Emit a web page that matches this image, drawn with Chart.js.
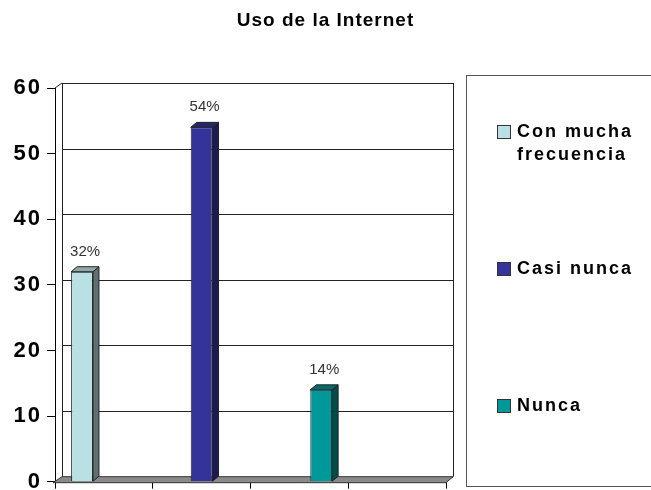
<!DOCTYPE html>
<html>
<head>
<meta charset="utf-8">
<script src="https://cdn.jsdelivr.net/npm/chart.js@4.4.1/dist/chart.umd.min.js"></script>
<style>
html, body { margin: 0; padding: 0; background: #fff; }
#wrap { width: 651px; height: 490px; }
</style>
</head>
<body>
<div id="wrap"><canvas id="grafico"></canvas></div>
<script>
// datos
const titulo = 'Uso de la Internet';
const categorias = ['', '', '', ''];
const series = ['Con mucha frecuencia', 'Casi nunca', 'Nunca'];
const valores = [32, 54, 14];
const etiquetas = ['32%', '54%', '14%'];
const colores = ['#b9e0e2', '#333399', '#009999'];
const lados = ['#5e7070', '#1b1b52', '#004c4c'];
const techos = ['#8fa8a8', '#26266e', '#006b6b'];

const fuente = '"Liberation Sans", Arial, sans-serif';
const ctx = document.getElementById('grafico').getContext('2d');

// cada serie va en su propia categoria
const datasets = series.map((s, i) => ({
    label: s,
    data: categorias.map((c, j) => (j === i ? valores[i] : null)),
    backgroundColor: colores[i],
    borderColor: '#222',
    borderWidth: 1,
    barPercentage: 1,
    categoryPercentage: 0.67
}));

const dx = 7, dy = 5; // profundidad del efecto 3D

const efecto3d = {
    id: 'efecto3d',
    beforeDraw(chart) {
        chart.ctx.letterSpacing = '2px';
    },
    beforeDatasetsDraw(chart) {
        const c = chart.ctx, a = chart.chartArea;
        const y = chart.scales.y;
        c.letterSpacing = '0px';
        c.save();
        c.strokeStyle = '#222';
        c.lineWidth = 1;
        // lineas de la pared del fondo
        y.ticks.forEach(t => {
            const py = Math.round(y.getPixelForValue(t.value) - dy) + 0.5;
            c.beginPath();
            c.moveTo(a.left + dx, py);
            c.lineTo(a.right + dx, py);
            c.stroke();
        });
        c.beginPath();
        c.moveTo(a.left + dx + 0.5, a.top - dy);
        c.lineTo(a.left + dx + 0.5, a.bottom - dy);
        c.moveTo(a.right + dx + 0.5, a.top - dy);
        c.lineTo(a.right + dx + 0.5, a.bottom - dy);
        c.moveTo(a.left, a.top);
        c.lineTo(a.left + dx, a.top - dy);
        c.stroke();
        // piso
        c.fillStyle = '#8a8a8a';
        c.strokeStyle = '#333';
        c.beginPath();
        c.moveTo(a.left - 2, a.bottom + 1);
        c.lineTo(a.left + dx, a.bottom - dy);
        c.lineTo(a.right + dx, a.bottom - dy);
        c.lineTo(a.right, a.bottom + 1);
        c.closePath();
        c.fill();
        c.stroke();
        c.restore();
    },
    afterDatasetsDraw(chart) {
        const c = chart.ctx;
        c.save();
        chart.data.datasets.forEach((ds, i) => {
            const meta = chart.getDatasetMeta(i);
            meta.data.forEach((bar, j) => {
                if (ds.data[j] == null) return;
                const w = bar.width, l = bar.x - w / 2, r = bar.x + w / 2;
                const y = bar.y, b = bar.base;
                c.strokeStyle = '#222';
                c.lineWidth = 1;
                // lado
                c.fillStyle = lados[i];
                c.beginPath();
                c.moveTo(r, y);
                c.lineTo(r + dx - 1, y - dy);
                c.lineTo(r + dx - 1, b - dy);
                c.lineTo(r, b);
                c.closePath();
                c.fill(); c.stroke();
                // techo
                c.fillStyle = techos[i];
                c.beginPath();
                c.moveTo(l, y);
                c.lineTo(l + dx - 1, y - dy);
                c.lineTo(r + dx - 1, y - dy);
                c.lineTo(r, y);
                c.closePath();
                c.fill(); c.stroke();
                // etiqueta
                c.fillStyle = '#333';
                c.font = '15px ' + fuente;
                c.textAlign = 'center';
                c.textBaseline = 'alphabetic';
                c.fillText(etiquetas[i], bar.x + 3, y - 16);
            });
        });
        c.restore();
    },
    afterDraw(chart) {
        const c = chart.ctx;
        c.save();
        // titulo centrado en el lienzo
        c.font = 'bold 19px ' + fuente;
        c.letterSpacing = '1px';
        c.fillStyle = '#000';
        c.textAlign = 'center';
        c.textBaseline = 'middle';
        c.fillText(titulo, chart.width / 2, 21);
        // leyenda en recuadro
        c.strokeStyle = '#555';
        c.lineWidth = 1;
        c.strokeRect(466.5, 75.5, 200, 411);
        c.font = 'bold 18px ' + fuente;
        c.letterSpacing = '2px';
        c.textAlign = 'left';
        chart.data.datasets.forEach((ds, i) => {
            const yc = 132 + i * 137;
            c.fillStyle = ds.backgroundColor;
            c.fillRect(497.5, yc - 6.5, 13, 13);
            c.strokeStyle = '#333';
            c.strokeRect(497.5, yc - 6.5, 13, 13);
            // partir en lineas
            const palabras = ds.label.split(' ');
            const lineas = [];
            let actual = '';
            palabras.forEach(p => {
                const prueba = actual ? actual + ' ' + p : p;
                if (c.measureText(prueba).width > 130 && actual) {
                    lineas.push(actual);
                    actual = p;
                } else {
                    actual = prueba;
                }
            });
            lineas.push(actual);
            c.fillStyle = '#000';
            lineas.forEach((t, k) => c.fillText(t, 517, yc + k * 23));
        });
        c.restore();
    }
};

new Chart(ctx, {
    type: 'bar',
    data: { labels: categorias, datasets: datasets },
    options: {
        responsive: true,
        maintainAspectRatio: false,
        animation: false,
        layout: { padding: { top: 88, left: 0, right: 205, bottom: 0 } },
        plugins: {
            legend: { display: false },
            tooltip: { enabled: false },
            title: { display: false }
        },
        scales: {
            x: {
                grid: { display: true, drawOnChartArea: false, color: '#000', tickLength: 7, offset: true },
                border: { display: false },
                ticks: { display: true, font: { size: 1, lineHeight: 0.1 }, padding: 0 },
                afterFit(s) { s.height = 7; }
            },
            y: {
                min: 0,
                max: 60,
                ticks: {
                    stepSize: 10,
                    color: '#000',
                    padding: 5,
                    font: { family: fuente, size: 22, weight: 'bold', lineHeight: 0.3 }
                },
                grid: { color: '#000', lineWidth: 1, tickLength: 8, drawOnChartArea: false },
                border: { display: true, color: '#000' },
                afterFit(s) { s.width = 55; }
            }
        }
    },
    plugins: [efecto3d]
});
</script>
</body>
</html>
